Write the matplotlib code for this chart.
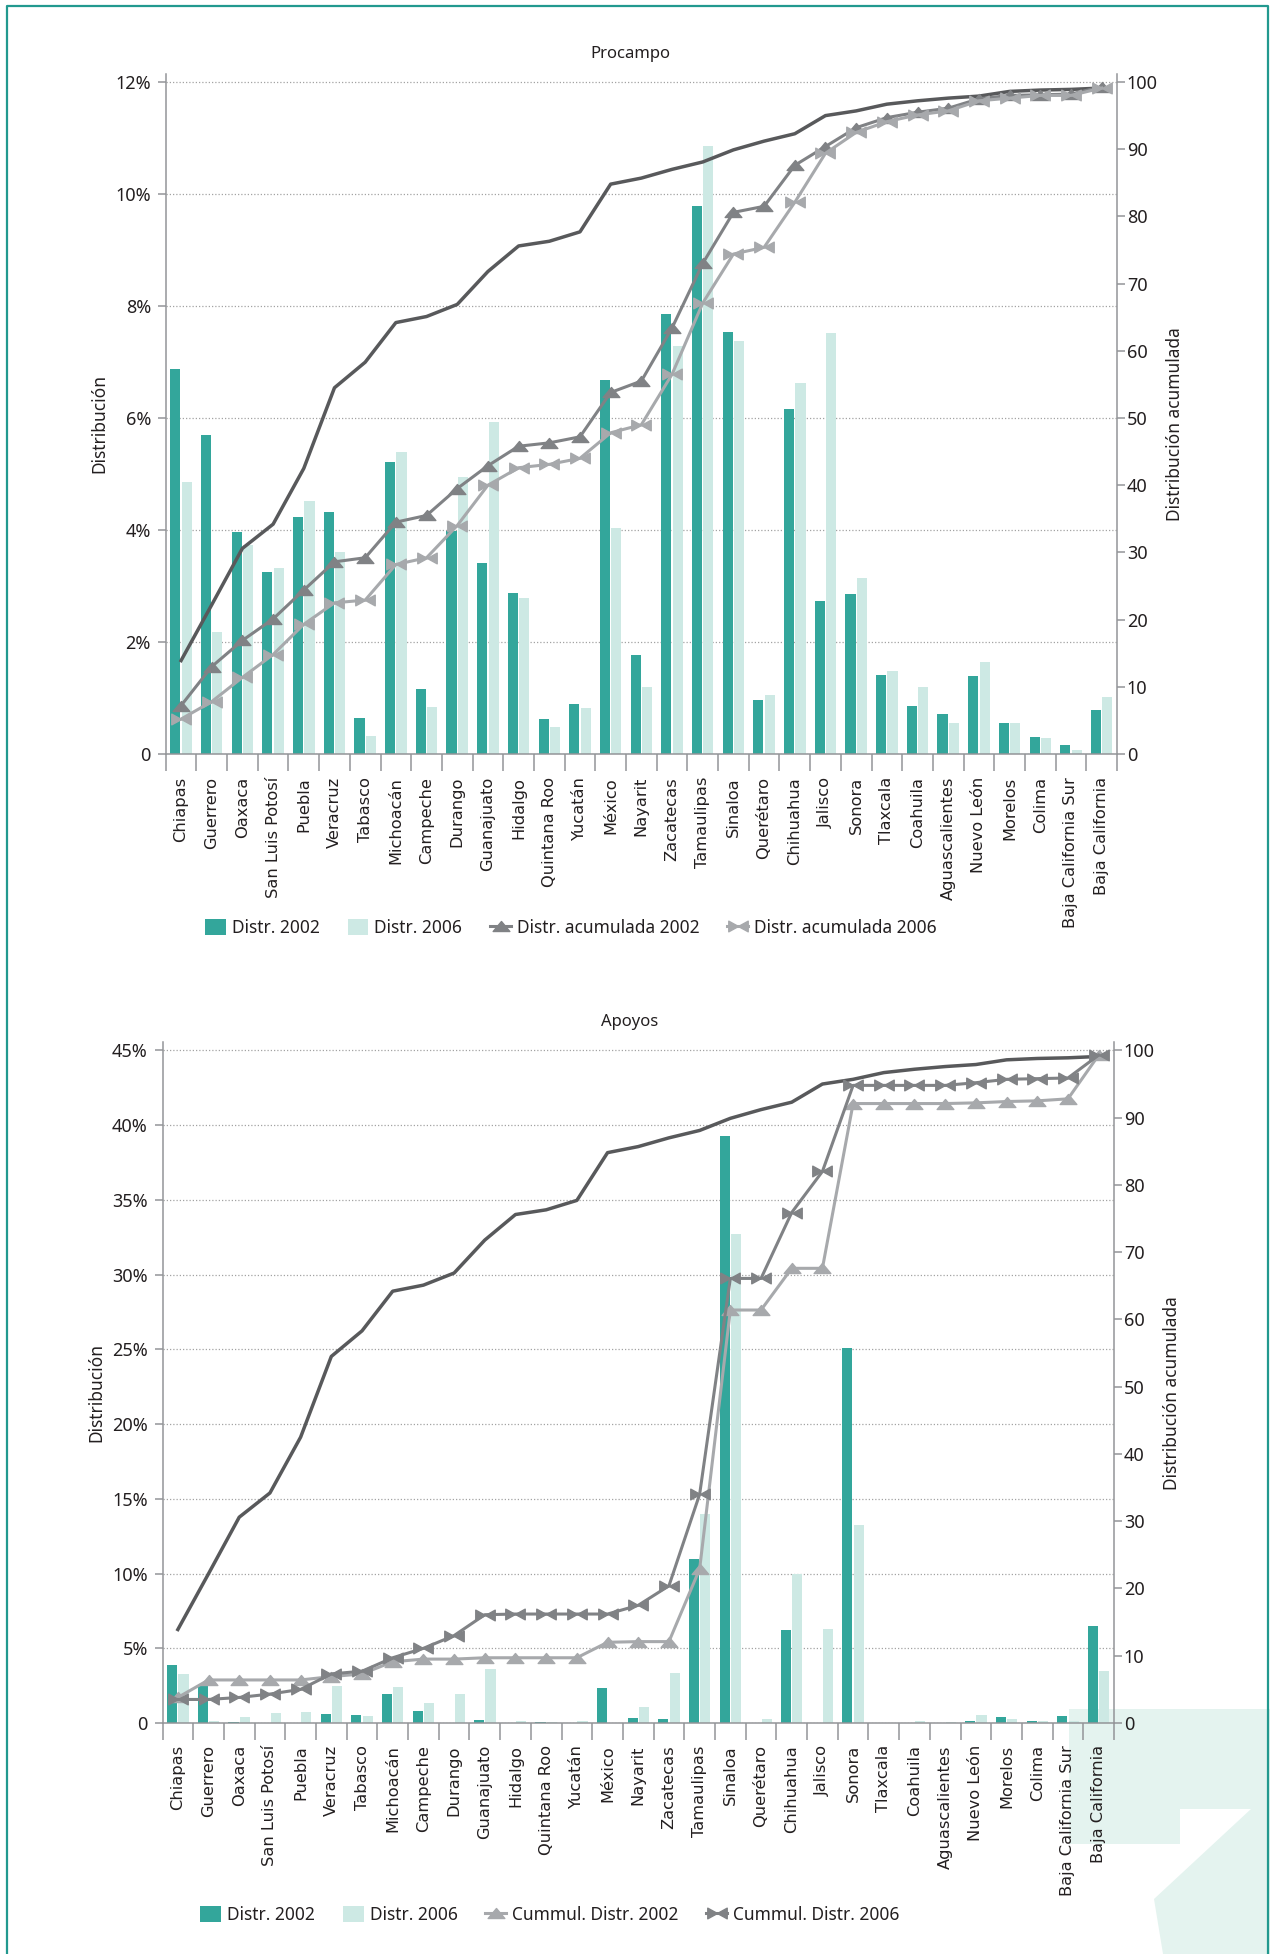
import matplotlib
matplotlib.use('Agg')
import matplotlib.pyplot as plt
from matplotlib.path import Path
from matplotlib.patches import Polygon, Patch
from matplotlib.lines import Line2D
import numpy as np

plt.rcParams['font.family'] = ['Noto Sans', 'DejaVu Sans']

states = ['Chiapas', 'Guerrero', 'Oaxaca', 'San Luis Potosí', 'Puebla', 'Veracruz',
          'Tabasco', 'Michoacán', 'Campeche', 'Durango', 'Guanajuato', 'Hidalgo',
          'Quintana Roo', 'Yucatán', 'México', 'Nayarit', 'Zacatecas', 'Tamaulipas',
          'Sinaloa', 'Querétaro', 'Chihuahua', 'Jalisco', 'Sonora', 'Tlaxcala',
          'Coahuila', 'Aguascalientes', 'Nuevo León', 'Morelos', 'Colima',
          'Baja California Sur', 'Baja California']

# unlabelled dark reference line (same in both panels), right axis
cum_ref = [13.9, 22.2, 30.6, 34.2, 42.5, 54.5, 58.3, 64.2, 65.1, 66.9, 71.8, 75.6, 76.3,
           77.7, 84.8, 85.7, 87.0, 88.1, 89.9, 91.2, 92.3, 95.0, 95.7, 96.7, 97.2, 97.6,
           97.9, 98.6, 98.8, 98.9, 99.1]

# Procampo (%)
proc_02 = [6.88, 5.70, 3.96, 3.25, 4.23, 4.32, 0.64, 5.21, 1.16, 3.99, 3.41, 2.87, 0.62,
           0.89, 6.68, 1.77, 7.86, 9.79, 7.54, 0.96, 6.16, 2.73, 2.86, 1.41, 0.86, 0.71,
           1.39, 0.55, 0.30, 0.16, 0.79]
proc_06 = [4.86, 2.17, 3.73, 3.32, 4.52, 3.61, 0.32, 5.39, 0.84, 4.95, 5.93, 2.79, 0.48,
           0.82, 4.04, 1.20, 7.29, 10.85, 7.38, 1.05, 6.63, 7.52, 3.14, 1.48, 1.20, 0.55,
           1.64, 0.55, 0.29, 0.07, 1.02]
proc_cum02 = [7.2, 13.0, 16.9, 20.1, 24.4, 28.6, 29.2, 34.5, 35.5, 39.5, 42.9, 45.8, 46.3,
              47.2, 53.8, 55.5, 63.4, 73.0, 80.6, 81.5, 87.6, 90.4, 93.2, 94.7, 95.5, 96.1,
              97.5, 98.0, 98.1, 98.2, 99.3]
proc_cum06 = [5.2, 7.8, 11.4, 14.8, 19.3, 22.5, 22.9, 28.2, 29.2, 34.0, 40.0, 42.6, 43.1,
              44.0, 47.8, 49.0, 56.5, 67.1, 74.4, 75.4, 82.1, 89.4, 92.5, 94.1, 95.1, 95.7,
              97.2, 97.6, 98.0, 98.0, 99.1]

# Apoyos (%)
apo_02 = [3.86, 2.54, 0.10, 0.0, 0.0, 0.58, 0.51, 1.92, 0.78, 0.0, 0.18, 0.0, 0.09, 0.0,
          2.32, 0.31, 0.25, 10.96, 39.3, 0.0, 6.19, 0.0, 25.1, 0.0, 0.0, 0.0, 0.13, 0.38,
          0.13, 0.45, 6.47]
apo_06 = [3.26, 0.16, 0.38, 0.65, 0.72, 2.46, 0.45, 2.39, 1.31, 1.92, 3.60, 0.13, 0.07,
          0.13, 0.0, 1.05, 3.33, 14.0, 32.7, 0.25, 10.0, 6.32, 13.28, 0.02, 0.13, 0.05,
          0.51, 0.25, 0.13, 0.13, 3.48]
apo_cum02 = [3.8, 6.4, 6.4, 6.4, 6.4, 6.9, 7.3, 9.1, 9.5, 9.5, 9.7, 9.7, 9.7, 9.7, 12.0,
             12.1, 12.1, 22.9, 61.4, 61.4, 67.6, 67.6, 92.1, 92.1, 92.1, 92.1, 92.2, 92.4,
             92.5, 92.8, 99.3]
apo_cum06 = [3.5, 3.5, 3.8, 4.3, 5.0, 7.3, 7.7, 9.7, 11.1, 13.0, 16.1, 16.2, 16.2, 16.2,
             16.2, 17.5, 20.4, 34.0, 66.1, 66.1, 75.9, 82.0, 94.8, 94.8, 94.8, 94.8, 95.2,
             95.7, 95.8, 95.9, 99.3]

teal = '#33a69b'
teal_light = '#cde9e4'
dark = '#58595b'
mid = '#808285'
light = '#a7a9ac'
axis_gray = '#939598'
txt = '#231f20'

M, L, C = Path.MOVETO, Path.LINETO, Path.CLOSEPOLY
tri = Path([(0, 0.6), (-1, -0.6), (1, -0.6), (0, 0.6)], [M, L, L, C])
bow = Path([(-1, 0.55), (0, 0), (-1, -0.55), (-1, 0.55),
            (1, 0.55), (0, 0), (1, -0.55), (1, 0.55)], [M, L, L, C, M, L, L, C])

W, H = 1270, 1954
fig = plt.figure(figsize=(W / 100, H / 100), dpi=100)

# background decoration and frame
deco = [(1069, 1709), (1280, 1709), (1280, 1960), (1164, 1960), (1154, 1899),
        (1251, 1809), (1180, 1809), (1180, 1844), (1069, 1844)]
fig.add_artist(Polygon([(a / W, 1 - b / H) for a, b in deco], closed=True,
                       transform=fig.transFigure, facecolor='#e4f3ef',
                       edgecolor='none', zorder=-5))
fig.add_artist(Line2D([7 / W, 7 / W, 1268 / W, 1268 / W], [0, 1 - 6 / H, 1 - 6 / H, 0],
                      transform=fig.transFigure, color='#22998f', lw=1.6))


def panel(box, ytop, ystep, d02, d06, c02, c06, st02, st06, title, title_y,
          ylab_y, leg_labels, leg_xy, xpad):
    left, top, right, bottom = box
    ax = fig.add_axes([left / W, 1 - bottom / H, (right - left) / W, (bottom - top) / H])
    ax.set_facecolor('none')
    x = np.arange(len(states))
    ax.bar(x - 0.185, d02, 0.33, color=teal, zorder=2)
    ax.bar(x + 0.185, d06, 0.33, color=teal_light, zorder=2)
    ax.set_xlim(-0.5, len(states) - 0.5)
    ax.set_ylim(0, ytop * 1.0125)
    yt = np.arange(0, ytop + 0.01, ystep)
    ax.set_yticks(yt)
    ax.set_yticklabels(['0'] + ['%d%%' % v for v in yt[1:]])
    ax.grid(axis='y', linestyle=(0, (1, 1.6)), color='#a3a3a3', linewidth=0.9)
    ax.set_axisbelow(True)
    for s in ['top', 'right']:
        ax.spines[s].set_visible(False)
    for s in ['left', 'bottom']:
        ax.spines[s].set_color(axis_gray)
        ax.spines[s].set_linewidth(1.1)
    ax.set_xticks(x)
    ax.set_xticklabels(states, rotation=90, fontfamily='DejaVu Sans', fontsize=11.7,
                       color=txt)
    ax.tick_params(axis='x', which='major', length=0, pad=xpad)
    ax.set_xticks(np.arange(-0.5, len(states), 1), minor=True)
    ax.tick_params(axis='x', which='minor', length=12.5, width=1.1, color=axis_gray)
    ax.tick_params(axis='y', length=5.6, width=1.1, color=axis_gray, pad=5,
                   labelsize=13, labelcolor=txt)

    # cumulative series on the right-hand axis
    ax2 = ax.twinx()
    ax2.set_ylim(0, 101.25)
    ax2.set_yticks(range(0, 101, 10))
    for s in ['top', 'left', 'bottom']:
        ax2.spines[s].set_visible(False)
    ax2.spines['right'].set_color(axis_gray)
    ax2.spines['right'].set_linewidth(1.1)
    ax2.tick_params(axis='y', length=5.6, width=1.1, color=axis_gray, pad=1.5,
                    labelsize=13, labelcolor=txt)
    ax2.plot(x, cum_ref, color=dark, lw=2.5)
    ax2.plot(x, c02, color=st02[0], lw=2.2, marker=st02[1], markersize=st02[2])
    ax2.plot(x, c06, color=st06[0], lw=2.2, marker=st06[1], markersize=st06[2])

    fig.text(630 / W, 1 - title_y / H, title, ha='center', va='center', fontsize=12,
             color=txt)
    fig.text((left - 66) / W, 1 - ylab_y / H, 'Distribución', rotation=90,
             ha='center', va='center', fontsize=12.5, color=txt)
    fig.text((right + 58) / W, 1 - ylab_y / H, 'Distribución acumulada', rotation=90,
             ha='center', va='center', fontsize=12.5, color=txt)

    handles = [Patch(facecolor=teal), Patch(facecolor=teal_light),
               Line2D([], [], color=st02[0], lw=2.2, marker=st02[1], markersize=st02[2]),
               Line2D([], [], color=st06[0], lw=2.2, marker=st06[1], markersize=st06[2])]
    fig.legend(handles, leg_labels, loc='center',
               bbox_to_anchor=(leg_xy[0] / W, 1 - leg_xy[1] / H), ncol=4, frameon=False,
               fontsize=12.5, handlelength=1.2, handleheight=1.0, handletextpad=0.35,
               columnspacing=1.6, labelcolor=txt)
    return ax, ax2


panel((165.7, 73.6, 1117, 754), 12, 2, proc_02, proc_06, proc_cum02, proc_cum06,
      (mid, tri, 12), (light, bow, 14), 'Procampo', 54, 424,
      ['Distr. 2002', 'Distr. 2006', 'Distr. acumulada 2002', 'Distr. acumulada 2006'],
      (571, 928), 16.5)

panel((162.5, 1042, 1114, 1723), 45, 5, apo_02, apo_06, apo_cum02, apo_cum06,
      (light, tri, 12), (mid, bow, 14), 'Apoyos', 1022, 1393,
      ['Distr. 2002', 'Distr. 2006', 'Cummul. Distr. 2002', 'Cummul. Distr. 2006'],
      (550, 1915), 16)

fig.savefig('out.png', dpi=100)
